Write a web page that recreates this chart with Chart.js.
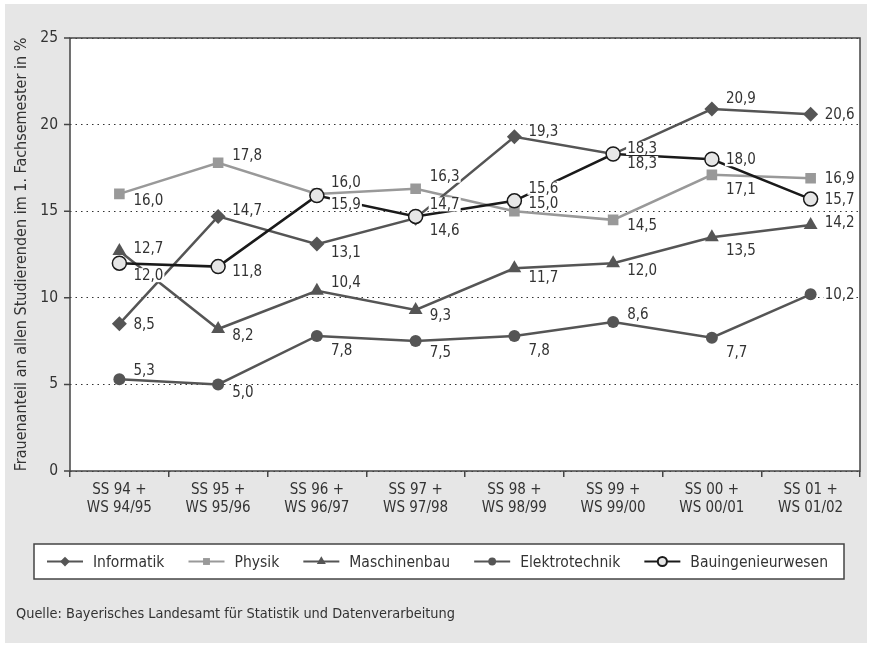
<!DOCTYPE html>
<html lang="de">
<head>
<meta charset="UTF-8">
<title>Frauenanteil im 1. Fachsemester</title>
<script src="https://cdn.jsdelivr.net/npm/chart.js"></script>
<style>
  html, body { margin: 0; padding: 0; background: #fff; }
  #wrap { position: relative; width: 871px; height: 647px; }
  #source {
    position: absolute; left: 16px; top: 605px;
    font: 14.4px 'DejaVu Sans Condensed', 'Liberation Sans Narrow', sans-serif;
    color: #333;
  }
</style>
</head>
<body>
<div id="wrap">
  <canvas id="chart" width="871" height="647"></canvas>
  <div id="source">Quelle: Bayerisches Landesamt für Statistik und Datenverarbeitung</div>
</div>
<script>
// data
const semesters = [
  ['SS 94 +', 'WS 94/95'], ['SS 95 +', 'WS 95/96'], ['SS 96 +', 'WS 96/97'], ['SS 97 +', 'WS 97/98'],
  ['SS 98 +', 'WS 98/99'], ['SS 99 +', 'WS 99/00'], ['SS 00 +', 'WS 00/01'], ['SS 01 +', 'WS 01/02']
];
const informatik        = [8.5, 14.7, 13.1, 14.6, 19.3, 18.3, 20.9, 20.6];
const physik            = [16.0, 17.8, 16.0, 16.3, 15.0, 14.5, 17.1, 16.9];
const maschinenbau      = [12.7, 8.2, 10.4, 9.3, 11.7, 12.0, 13.5, 14.2];
const elektrotechnik    = [5.3, 5.0, 7.8, 7.5, 7.8, 8.6, 7.7, 10.2];
const bauingenieurwesen = [12.0, 11.8, 15.9, 14.7, 15.6, 18.3, 18.0, 15.7];
const yTicks = [0, 5, 10, 15, 20, 25];

// vertical nudge of each value label (px), so they sit like in the original
const labelShift = [
  [0, -6, 8, 12, -6, -6, -11, 0],
  [6, -8, -12, -13, -8, 5, 14, 0],
  [-3, 6, -9, 5, 9, 7, 13, -3],
  [-9, 8, 14, 11, 14, -8, 14, 0],
  [12, 4, 8, -12, -13, 9, 0, 0]
];

const FONT = "'DejaVu Sans Condensed', 'Liberation Sans Narrow', sans-serif";
const TXT = '#333';

function drawMarker(ctx, ds, x, y, scale) {
  ctx.save();
  ctx.fillStyle = ds.pointBackgroundColor;
  ctx.strokeStyle = ds.pointBorderColor;
  Chart.helpers.drawPoint(ctx, {
    pointStyle: ds.pointStyle, radius: ds.pointRadius * scale,
    borderWidth: ds.pointBorderWidth, rotation: 0
  }, x, y);
  ctx.restore();
}

const backdrop = {
  id: 'backdrop',
  beforeDraw(chart) {
    const { ctx, chartArea: a } = chart;
    ctx.save();
    ctx.fillStyle = '#fff';
    ctx.fillRect(0, 0, chart.width, chart.height);
    ctx.fillStyle = '#e6e6e6';
    ctx.fillRect(5, 4, chart.width - 9, chart.height - 8);
    ctx.fillStyle = '#fff';
    ctx.fillRect(a.left, a.top, a.right - a.left, a.bottom - a.top);
    ctx.restore();
  }
};

const frame = {
  id: 'frame',
  beforeDatasetsDraw(chart) {
    const { ctx, chartArea: a } = chart;
    const y = chart.scales.y;
    ctx.save();
    ctx.strokeStyle = '#444';
    ctx.lineWidth = 1.5;
    ctx.strokeRect(a.left, a.top, a.right - a.left, a.bottom - a.top);
    ctx.beginPath();
    yTicks.forEach(v => {
      const py = y.getPixelForValue(v);
      ctx.moveTo(a.left - 6, py);
      ctx.lineTo(a.left, py);
    });
    ctx.stroke();
    ctx.restore();
  }
};

const valueLabels = {
  id: 'valueLabels',
  afterDatasetsDraw(chart) {
    const ctx = chart.ctx;
    ctx.save();
    ctx.font = '15px ' + FONT;
    ctx.textBaseline = 'middle';
    ctx.textAlign = 'left';
    chart.data.datasets.forEach((ds, i) => {
      chart.getDatasetMeta(i).data.forEach((pt, j) => {
        const txt = ds.data[j].toFixed(1).replace('.', ',');
        const w = ctx.measureText(txt).width;
        const x = pt.x + 14, y = pt.y + labelShift[i][j];
        ctx.fillStyle = '#fff';
        ctx.fillRect(x - 1, y - 7, w + 2, 14);
        ctx.fillStyle = TXT;
        ctx.fillText(txt, x, y + 1);
      });
    });
    ctx.restore();
  }
};

const boxLegend = {
  id: 'boxLegend',
  afterDraw(chart) {
    const ctx = chart.ctx;
    const box = { x: 34, y: 544, w: 810, h: 35 };
    const cy = box.y + box.h / 2;
    ctx.save();
    ctx.fillStyle = '#fff';
    ctx.fillRect(box.x, box.y, box.w, box.h);
    ctx.strokeStyle = '#444';
    ctx.lineWidth = 1.5;
    ctx.strokeRect(box.x, box.y, box.w, box.h);
    ctx.font = '15.5px ' + FONT;
    ctx.textBaseline = 'middle';
    const sets = chart.data.datasets;
    const widths = sets.map(d => 36 + 10 + ctx.measureText(d.label).width);
    const sum = widths.reduce((s, v) => s + v, 0);
    const gap = (781 - sum) / (sets.length - 1);
    let x = 47;
    sets.forEach((d, i) => {
      ctx.strokeStyle = d.borderColor;
      ctx.lineWidth = 2;
      ctx.beginPath();
      ctx.moveTo(x, cy);
      ctx.lineTo(x + 36, cy);
      ctx.stroke();
      drawMarker(ctx, d, x + 18, cy, 0.65);
      ctx.fillStyle = TXT;
      ctx.fillText(d.label, x + 46, cy + 1);
      x += widths[i] + gap;
    });
    ctx.restore();
  }
};

function series(label, data, color, style, radius, extra) {
  return Object.assign({
    label, data,
    borderColor: color, borderWidth: 2.5, tension: 0,
    pointStyle: style, pointRadius: radius,
    pointBackgroundColor: color, pointBorderColor: color, pointBorderWidth: 0,
    order: 1
  }, extra || {});
}

new Chart(document.getElementById('chart'), {
  type: 'line',
  data: {
    labels: semesters,
    datasets: [
      series('Informatik', informatik, '#555', 'rectRot', 7.5),
      series('Physik', physik, '#999', 'rect', 7.5),
      series('Maschinenbau', maschinenbau, '#555', 'triangle', 8),
      series('Elektrotechnik', elektrotechnik, '#555', 'circle', 6),
      series('Bauingenieurwesen', bauingenieurwesen, '#1a1a1a', 'circle', 7,
        { pointBackgroundColor: '#e6e6e6', pointBorderColor: '#1a1a1a', pointBorderWidth: 1.5, order: 0 })
    ]
  },
  options: {
    responsive: false,
    animation: false,
    layout: { padding: { top: 38, right: 11, bottom: 124, left: 0 } },
    plugins: { legend: { display: false }, tooltip: { enabled: false } },
    scales: {
      x: {
        offset: true,
        grid: { offset: true, drawOnChartArea: false, drawTicks: true, tickLength: 6, color: '#444', lineWidth: 1.5 },
        border: { display: false },
        ticks: { font: { family: FONT, size: 15, lineHeight: 1.2 }, color: TXT, padding: 4, maxRotation: 0, autoSkip: false },
        afterFit(s) { s.height = 52; }
      },
      y: {
        min: 0, max: 25,
        afterBuildTicks(s) { s.ticks = yTicks.map(v => ({ value: v })); },
        ticks: { font: { family: FONT, size: 15.5 }, color: TXT, padding: 12 },
        grid: { drawTicks: false, color: '#333', lineWidth: 1 },
        border: { display: false, dash: [1.5, 4] },
        title: {
          display: true,
          text: 'Frauenanteil an allen Studierenden im 1. Fachsemester in %',
          font: { family: FONT, size: 16 }, color: TXT,
          padding: { top: 12, bottom: 0 }
        },
        afterFit(s) { s.width = 70; }
      }
    }
  },
  plugins: [backdrop, frame, valueLabels, boxLegend]
});
</script>
</body>
</html>
